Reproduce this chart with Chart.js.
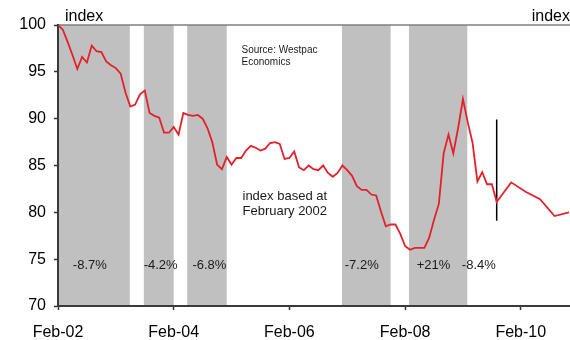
<!DOCTYPE html>
<html>
<head>
<meta charset="utf-8">
<script src="https://cdn.jsdelivr.net/npm/chart.js@4/dist/chart.umd.min.js"></script>
<style>
html,body{margin:0;padding:0;background:#fff;}
#c{display:block;}
</style>
</head>
<body>
<canvas id="c" width="570" height="340"></canvas>
<script>
// Months since Feb-02 (0 = Feb-02)
const months = [0,1,2,3,4,5,6,7,8,9,10,11,12,13,14,15,16,17,18,19,20,21,22,23,24,25,26,27,28,29,30,31,32,33,34,35,36,37,38,39,40,41,42,43,44,45,46,47,48,49,50,51,52,53,54,55,56,57,58,59,60,61,62,63,64,65,66,67,68,69,70,71,72,73,74,75,76,77,78,79,80,81,82,83,84,85,86,87,88,89,90,91,94,97,100,103,106];
const indexValues = [100.0,99.5,98.2,96.8,95.3,96.6,96.0,97.8,97.2,97.1,96.1,95.7,95.4,94.8,92.8,91.3,91.5,92.6,93.0,90.6,90.3,90.1,88.5,88.5,89.1,88.3,90.6,90.4,90.3,90.4,90.0,89.0,87.5,85.1,84.6,85.9,85.1,85.8,85.8,86.6,87.1,86.9,86.6,86.8,87.4,87.5,87.3,85.7,85.8,86.5,84.8,84.5,85.0,84.6,84.5,85.0,84.2,83.8,84.2,85.0,84.5,83.9,82.8,82.4,82.4,81.9,81.8,80.1,78.5,78.7,78.7,77.7,76.4,76.0,76.2,76.2,76.2,77.3,79.2,80.9,86.3,88.3,86.3,89.0,92.1,89.6,87.4,83.3,84.3,83.0,83.0,81.1,83.2,82.2,81.4,79.6,80.0];

// Shaded periods (months since Feb-02)
const bandStarts = [0, 17.8, 26.8, 58.9, 72.8];
const bandEnds   = [14.9, 24, 35, 69, 84.9];
const bandLabels = ['-8.7%','-4.2%','-6.8%','-7.2%','+21%','-8.4%'];
const bandLabelMonths = [6.6, 21.3, 31.4, 63.0, 77.9, 87.3];
const bandLabelLevel = 74.3;

// Vertical marker
const markerMonth = 91;
const markerRange = [89.9, 79.1];

// Axis ticks
const xTickMonths = [0, 24, 48, 72, 96];
const xTickLabels = ['Feb-02','Feb-04','Feb-06','Feb-08','Feb-10'];
const yTicks = [70, 75, 80, 85, 90, 95, 100];

const FONT = "'Liberation Sans', Arial, sans-serif";

const lineData = months.map((m, i) => ({x: m, y: indexValues[i]}));
const markerData = markerRange.map(v => ({x: markerMonth, y: v}));

const decorPlugin = {
  id: 'decor',
  beforeDraw(chart) {
    const ctx = chart.ctx;
    const xs = chart.scales.x, ys = chart.scales.y;
    const top = ys.getPixelForValue(100), bot = ys.getPixelForValue(70);
    ctx.save();
    ctx.fillStyle = '#c0c0c0';
    for (let i = 0; i < bandStarts.length; i++) {
      const x0 = xs.getPixelForValue(bandStarts[i]);
      const x1 = xs.getPixelForValue(bandEnds[i]);
      ctx.fillRect(x0, top, x1 - x0, bot - top);
    }
    // top frame line
    ctx.strokeStyle = '#7f7f7f';
    ctx.lineWidth = 1.5;
    ctx.beginPath();
    ctx.moveTo(chart.chartArea.left, top);
    ctx.lineTo(chart.width, top);
    ctx.stroke();
    ctx.restore();
  },
  afterDatasetsDraw(chart) {
    const ctx = chart.ctx;
    const xs = chart.scales.x, ys = chart.scales.y;
    ctx.save();
    ctx.fillStyle = '#1a1a1a';
    ctx.textBaseline = 'middle';
    ctx.textAlign = 'center';
    ctx.font = '13px ' + FONT;
    for (let i = 0; i < bandLabels.length; i++) {
      ctx.fillText(bandLabels[i], xs.getPixelForValue(bandLabelMonths[i]), ys.getPixelForValue(bandLabelLevel));
    }
    ctx.textAlign = 'left';
    ctx.font = '13px ' + FONT;
    ctx.fillText('index based at', 242.5, 196);
    ctx.fillText('February 2002', 242.5, 211.7);
    ctx.font = '10px ' + FONT;
    ctx.fillText('Source: Westpac', 241.5, 50.7);
    ctx.fillText('Economics', 241.5, 62.3);
    ctx.fillStyle = '#000';
    ctx.font = '16px ' + FONT;
    ctx.fillText('index', 65, 16.5);
    ctx.textAlign = 'right';
    ctx.fillText('index', 570, 16.5);
    ctx.restore();
  }
};

new Chart(document.getElementById('c'), {
  type: 'line',
  data: {
    datasets: [
      {
        data: lineData,
        borderColor: '#e4202a',
        borderWidth: 1.8,
        pointRadius: 0,
        tension: 0,
        fill: false
      },
      {
        data: markerData,
        borderColor: '#000',
        borderWidth: 1.5,
        pointRadius: 0,
        fill: false
      }
    ]
  },
  options: {
    responsive: false,
    animation: false,
    devicePixelRatio: 1,
    layout: {padding: {top: 25, right: 1, left: 0, bottom: 0}},
    plugins: {legend: {display: false}, tooltip: {enabled: false}},
    scales: {
      x: {
        type: 'linear',
        min: 0,
        max: 106,
        afterBuildTicks(scale) { scale.ticks = xTickMonths.map(v => ({value: v})); },
        afterFit(scale) { scale.height = 34; },
        ticks: {
          autoSkip: false,
          maxRotation: 0,
          padding: 13,
          color: '#000',
          font: {family: FONT, size: 16},
          callback(v) { const i = xTickMonths.indexOf(v); return i >= 0 ? xTickLabels[i] : ''; }
        },
        grid: {drawOnChartArea: false, drawTicks: true, tickLength: 4, tickColor: '#333', tickWidth: 1.5},
        border: {display: true, color: '#3a3a3a', width: 2}
      },
      y: {
        min: 70,
        max: 100,
        afterBuildTicks(scale) { scale.ticks = yTicks.map(v => ({value: v})); },
        afterFit(scale) { scale.width = 58; },
        ticks: {
          padding: 8,
          color: '#000',
          font: {family: FONT, size: 16}
        },
        grid: {drawOnChartArea: false, drawTicks: true, tickLength: 4, tickColor: '#333', tickWidth: 1.5},
        border: {display: true, color: '#3a3a3a', width: 2}
      }
    }
  },
  plugins: [decorPlugin]
});
</script>
</body>
</html>
